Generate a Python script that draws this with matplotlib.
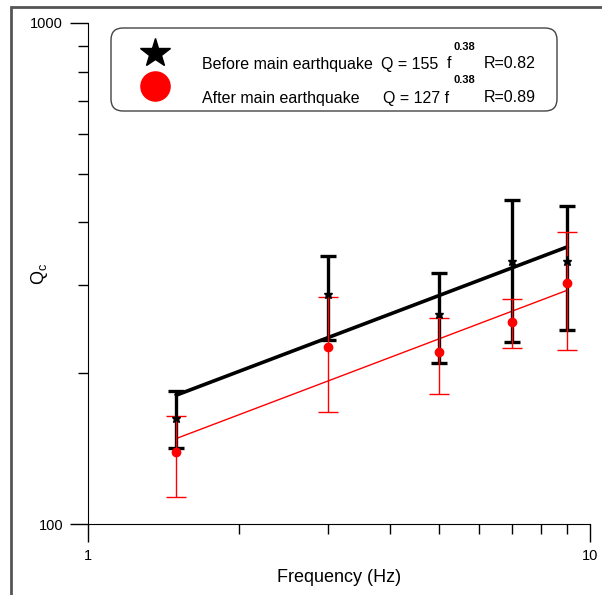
import numpy as np
import matplotlib
matplotlib.use("Agg")
import matplotlib.pyplot as plt
from matplotlib.patches import FancyBboxPatch, Rectangle
from matplotlib.ticker import LogLocator, NullFormatter, FixedLocator, FixedFormatter

plt.rcParams["font.family"] = ["Liberation Sans", "DejaVu Sans"]

# coda Q values per centre frequency
freq = [1.5, 3, 5, 7, 9]
q_before = [163, 288, 262, 335, 335]
q_before_lo = [142, 233, 210, 231, 244]
q_before_hi = [184, 343, 317, 443, 431]
q_after = [139, 226, 220, 253, 303]
q_after_lo = [113, 167, 182, 225, 222]
q_after_hi = [164, 284, 258, 281, 383]

# power-law fits Q = Q0 f^n
q0_before, q0_after, n_exp = 155, 127, 0.38
r_before, r_after = 0.82, 0.89

W, H = 602, 595
fig = plt.figure(figsize=(W / 100, H / 100), dpi=100)
ax = fig.add_axes([88 / W, 1 - 524 / H, (590 - 88) / W, (524 - 23) / H])

ff = np.array([freq[0], freq[-1]])
ax.plot(ff, q0_before * ff ** n_exp, color="black", lw=2.6, zorder=3)
ax.plot(ff, q0_after * ff ** n_exp, color="red", lw=1.0, zorder=3)

f = np.array(freq)
qb = np.array(q_before); qa = np.array(q_after)
ax.errorbar(f, qb, yerr=[qb - np.array(q_before_lo), np.array(q_before_hi) - qb],
            fmt="none", ecolor="black", elinewidth=2.4, capsize=5.5, capthick=2.4, zorder=4)
ax.errorbar(f, qa, yerr=[qa - np.array(q_after_lo), np.array(q_after_hi) - qa],
            fmt="none", ecolor="red", elinewidth=1.0, capsize=7.5, capthick=1.0, zorder=5)
ax.plot(f, qb, ls="none", marker="*", ms=6.5, color="black", zorder=6)
ax.plot(f, qa, ls="none", marker="o", ms=6, color="red", mec="red", zorder=6)

ax.set_xscale("log"); ax.set_yscale("log")
ax.set_xlim(1, 10); ax.set_ylim(100, 1000)
ax.xaxis.set_major_locator(FixedLocator([1, 10]))
ax.xaxis.set_major_formatter(FixedFormatter(["1", "10"]))
ax.yaxis.set_major_locator(FixedLocator([100, 1000]))
ax.yaxis.set_major_formatter(FixedFormatter(["100", "1000"]))
ax.xaxis.set_minor_locator(LogLocator(base=10, subs=np.arange(2, 10)))
ax.yaxis.set_minor_locator(LogLocator(base=10, subs=np.arange(2, 10)))
ax.xaxis.set_minor_formatter(NullFormatter())
ax.yaxis.set_minor_formatter(NullFormatter())
ax.tick_params(which="major", direction="out", length=13, width=1, labelsize=10.5, pad=5)
ax.tick_params(which="minor", direction="out", length=7, width=1)
for s in ("top", "right"):
    ax.spines[s].set_visible(False)
ax.set_xlabel("Frequency (Hz)", fontsize=13, labelpad=4)
ax.set_ylabel("$\\mathregular{Q_c}$", fontsize=13, rotation=90, va="center", ha="center")
ax.yaxis.set_label_coords(-0.096, 0.50)

# legend box with the fit equations
fig.patches.append(FancyBboxPatch((111 / W, 1 - 111 / H), (557 - 111) / W, (111 - 28) / H,
                                  boxstyle="round,pad=0,rounding_size=0.02",
                                  transform=fig.transFigure, fc="white", ec="#444444", lw=1.0,
                                  zorder=10))
lx = lambda x: x / W
ly = lambda y: 1 - y / H
fig.lines.append(plt.Line2D([lx(155)], [ly(53)], marker="*", ms=22, color="black",
                            transform=fig.transFigure, zorder=11))
fig.lines.append(plt.Line2D([lx(155)], [ly(86)], marker="o", ms=21, color="red",
                            transform=fig.transFigure, zorder=11))
kw = dict(fontsize=11.5, va="center", ha="left", zorder=12)
sup = dict(fontsize=8, fontweight="bold", va="center", ha="left", zorder=12)
fig.text(lx(202), ly(64), "Before main earthquake", **kw)
fig.text(lx(381), ly(64), "Q = %d" % q0_before, **kw)
fig.text(lx(447), ly(64), "f", **kw)
fig.text(lx(453), ly(47), "%.2f" % n_exp, **sup)
fig.text(lx(484), ly(64), "R=%.2f" % r_before, **kw)
fig.text(lx(202), ly(98), "After main earthquake", **kw)
fig.text(lx(383), ly(98), "Q = %d f" % q0_after, **kw)
fig.text(lx(453), ly(80), "%.2f" % n_exp, **sup)
fig.text(lx(484), ly(98), "R=%.2f" % r_after, **kw)

# outer frame
fig.patches.append(Rectangle((11 / W, -0.05), 1.1, 1 - 7 / H + 0.05, transform=fig.transFigure,
                             fill=False, ec="#555555", lw=2.0, zorder=0))

fig.savefig("out.png", dpi=100)
